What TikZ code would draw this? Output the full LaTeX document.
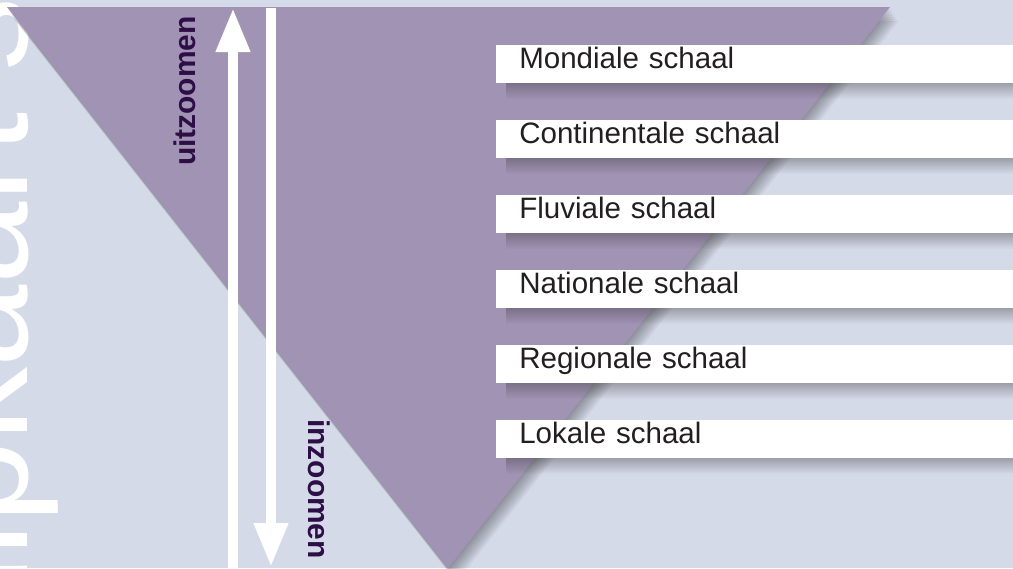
\documentclass[tikz,border=0pt]{standalone}
\usepackage{fontspec}
\setmainfont{Liberation Sans}
\usetikzlibrary{arrows.meta,fadings}
\definecolor{bgblue}{RGB}{213,218,233}
\definecolor{trimauve}{RGB}{161,147,180}
\definecolor{zoomtext}{RGB}{46,14,70}
\definecolor{labeltext}{RGB}{35,31,32}
\tikzfading[name=shadowfade, top color=transparent!0, bottom color=transparent!100]
\tikzset{
  scalebar/.style={fill=white, anchor=north west, inner xsep=0.575cm, inner ysep=0pt,
    minimum height=0.95cm, text width=11.775cm, align=left, text=labeltext,
    text height=0.66em, text depth=0pt, font=\fontsize{21}{24}\selectfont},
  barshadow/.style={fill=black!80, fill opacity=0.35, path fading=shadowfade},
  trishadow/.style={fill=black, fill opacity=0.05},
  zoomarrow/.style={white, line width=0.25cm, -{Triangle[length=1.1cm, width=0.8cm]}},
  zoomlabel/.style={anchor=base, inner sep=0pt, text=zoomtext, font=\bfseries\fontsize{21.3}{24}\selectfont},
  watermark/.style={anchor=base west, inner sep=0pt, text=white, font=\fontsize{105.3}{110}\selectfont}
}
\begin{document}
\begin{tikzpicture}[x=0.025cm, y=-0.025cm]
    \useasboundingbox (0,0) rectangle (1013,568);
    \clip (0,0) rectangle (1013,568);
    \fill[bgblue] (0,0) rectangle (1013,568);
    \node[watermark, rotate=90] (W) at (27,746) {Hulpkaart s};
    \foreach \k in {2,4,...,14}
      \fill[trishadow] (7+0.6*\k,7+\k) -- (890+0.6*\k,7+\k) -- (448+0.6*\k,568+\k) -- cycle;
    \fill[trimauve] (7,7) -- (890,7) -- (448,568) -- cycle;
    \foreach \y in {83,158,233,308,383,458}
      \fill[barshadow] (506,\y) rectangle (1013,\y+16);
    \node[scalebar] (M) at (496,45) {Mondiale schaal};
    \node[scalebar] (C) at (496,120) {Continentale schaal};
    \node[scalebar] (F) at (496,195) {Fluviale schaal};
    \node[scalebar] (N) at (496,270) {Nationale schaal};
    \node[scalebar] (R) at (496,345) {Regionale schaal};
    \node[scalebar] (L) at (496,420) {Lokale schaal};
    \coordinate (UB) at (233,568);
    \coordinate (UT) at (233,8);
    \coordinate (IT) at (271,8);
    \coordinate (IB) at (271,567);
    \draw[zoomarrow] (UB) -- (UT);
    \draw[zoomarrow] (IT) -- (IB);
    \node[zoomlabel, rotate=90] (U) at (195,91) {uitzoomen};
    \node[zoomlabel, rotate=-90] (I) at (308,489) {inzoomen};
\end{tikzpicture}
\end{document}
